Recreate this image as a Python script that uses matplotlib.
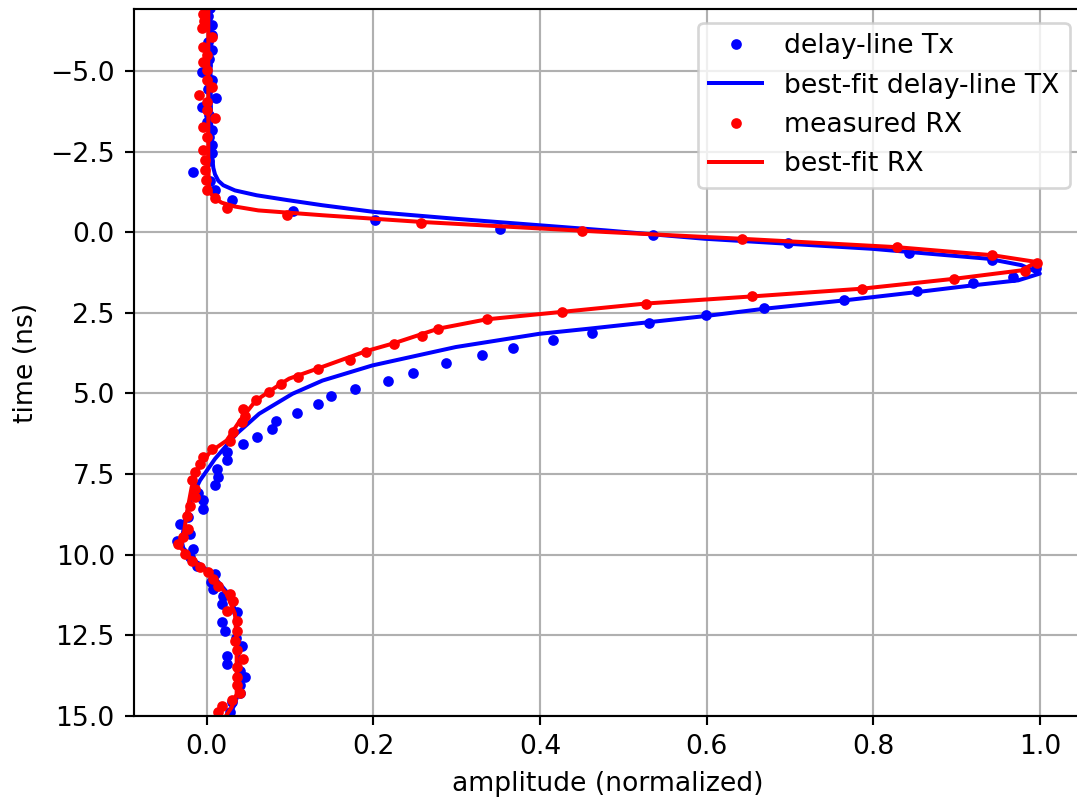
import matplotlib
matplotlib.use("Agg")
import matplotlib.pyplot as plt

# ---- data (time in ns, amplitude normalized) ----
tx_time = [-6.95, -6.7, -6.43, -6.12, -5.9, -5.65, -5.38, -5.2, -4.98, -4.72,
           -4.45, -4.17, -3.89, -3.65, -3.43, -3.17, -2.95, -2.70, -2.45, -2.2,
           -1.87, -1.6, -1.3, -0.99, -0.66, -0.37, -0.11, 0.09, 0.33, 0.64,
           0.87, 1.12, 1.39, 1.56, 1.83, 2.09, 2.34, 2.58, 2.82, 3.12,
           3.35, 3.59, 3.82, 4.06, 4.35, 4.60, 4.85, 5.09, 5.32, 5.61,
           5.84, 6.10, 6.34, 6.56, 6.82, 7.08, 7.34, 7.60, 7.83, 8.08,
           8.32, 8.58, 8.82, 9.05, 9.36, 9.57, 9.82, 10.08, 10.34, 10.6,
           10.85, 11.07, 11.3, 11.53, 11.79, 12.1, 12.36, 12.6, 12.83, 13.14,
           13.39, 13.6, 13.81, 14.05, 14.28, 14.59, 14.9]
tx_amp = [0.004, 0.002, 0.006, 0.006, 0.002, 0.007, 0.003, 0.000, -0.006, 0.007,
          0.002, 0.011, -0.005, 0.003, 0.000, 0.007, 0.003, 0.007, 0.007, 0.003,
          -0.016, 0.004, 0.010, 0.030, 0.104, 0.202, 0.352, 0.536, 0.698, 0.843,
          0.942, 0.995, 0.968, 0.920, 0.853, 0.765, 0.669, 0.599, 0.531, 0.462,
          0.416, 0.368, 0.331, 0.287, 0.248, 0.218, 0.178, 0.149, 0.134, 0.108,
          0.083, 0.079, 0.060, 0.044, 0.024, 0.024, 0.012, 0.014, 0.010, -0.010,
          -0.004, -0.004, -0.022, -0.032, -0.020, -0.036, -0.016, -0.020, -0.012, 0.010,
          0.005, 0.008, 0.020, 0.018, 0.036, 0.018, 0.022, 0.035, 0.042, 0.024,
          0.024, 0.040, 0.046, 0.040, 0.040, 0.030, 0.028]

tx_fit_time = [-7.0, -4.0, -2.5, -2.0, -1.8, -1.6, -1.46, -1.3, -1.15, -1.0, -0.84,
               -0.63, -0.42, -0.22, -0.06, 0.2, 0.51, 0.82, 1.02, 1.28, 1.49,
               1.65, 1.85, 2.11, 2.37, 2.6, 2.99, 3.15, 3.56, 4.13, 4.6,
               5.01, 5.63, 6.25, 7.03, 7.70, 8.22, 8.94, 9.57, 9.8, 10.19,
               10.6, 11.22, 11.84, 12.67, 13.7, 14.32, 14.74, 15.05]
tx_fit_amp = [0.004, 0.005, 0.006, 0.008, 0.010, 0.014, 0.020, 0.034, 0.060, 0.097, 0.139,
              0.202, 0.299, 0.399, 0.479, 0.598, 0.798, 0.938, 0.978, 1.000, 0.974,
              0.918, 0.854, 0.766, 0.670, 0.598, 0.459, 0.399, 0.299, 0.199, 0.139,
              0.103, 0.063, 0.036, 0.010, -0.008, -0.018, -0.026, -0.030, -0.028, -0.014,
              0.006, 0.026, 0.036, 0.038, 0.038, 0.038, 0.032, 0.024]

rx_time = [-6.79, -6.55, -6.33, -6.07, -5.76, -5.5, -5.29, -5.03, -4.72, -4.51,
           -4.25, -4.05, -3.8, -3.56, -3.27, -2.96, -2.55, -2.24, -1.93, -1.61,
           -1.30, -1.08, -0.77, -0.53, -0.29, -0.04, 0.20, 0.47, 0.71, 0.95,
           1.20, 1.44, 1.75, 1.99, 2.21, 2.47, 2.70, 3.01, 3.23, 3.46,
           3.72, 3.95, 4.25, 4.49, 4.70, 4.96, 5.20, 5.48, 5.71, 5.89,
           6.20, 6.46, 6.72, 6.98, 7.2, 7.44, 7.70, 7.96, 8.22, 8.5,
           8.79, 9.2, 9.45, 9.67, 9.98, 10.19, 10.37, 10.55, 10.76, 10.96,
           11.22, 11.43, 11.74, 12.05, 12.36, 12.67, 12.95, 13.24, 13.5, 13.81,
           14.05, 14.28, 14.5, 14.69, 14.9]
rx_amp = [-0.004, -0.003, -0.005, 0.006, -0.004, 0.000, -0.004, 0.000, 0.000, 0.006,
          -0.009, 0.000, 0.001, 0.010, -0.004, 0.000, -0.004, -0.002, -0.002, -0.001,
          0.000, 0.010, 0.024, 0.096, 0.257, 0.451, 0.642, 0.828, 0.943, 0.996,
          0.982, 0.897, 0.786, 0.654, 0.527, 0.426, 0.336, 0.278, 0.258, 0.225,
          0.191, 0.172, 0.134, 0.110, 0.089, 0.075, 0.059, 0.044, 0.046, 0.042,
          0.032, 0.028, 0.006, -0.004, -0.008, -0.014, -0.018, -0.014, -0.014, -0.020,
          -0.024, -0.022, -0.028, -0.034, -0.026, -0.018, -0.008, 0.002, 0.008, 0.014,
          0.028, 0.032, 0.024, 0.036, 0.036, 0.034, 0.036, 0.044, 0.036, 0.036,
          0.036, 0.040, 0.030, 0.018, 0.014]

rx_fit_time = [-7.0, -4.0, -2.0, -1.4, -1.2, -1.05, -0.92, -0.8, -0.68, -0.53, -0.32,
               -0.15, -0.01, 0.2, 0.46, 0.71, 0.92, 1.18, 1.44, 1.75, 1.99,
               2.21, 2.47, 2.70, 2.99, 3.44, 3.69, 4.22, 4.54, 4.70, 5.22,
               5.84, 6.46, 6.82, 7.39, 7.91, 8.74, 9.46, 9.77, 10.19, 10.6,
               11.22, 11.84, 12.67, 13.7, 14.32, 14.74, 15.05]
rx_fit_amp = [0.002, 0.002, 0.002, 0.003, 0.005, 0.010, 0.018, 0.034, 0.062, 0.139, 0.259,
              0.379, 0.479, 0.642, 0.828, 0.943, 0.996, 0.978, 0.898, 0.786, 0.654,
              0.527, 0.426, 0.336, 0.278, 0.225, 0.191, 0.134, 0.099, 0.089, 0.059,
              0.040, 0.024, 0.004, -0.012, -0.018, -0.024, -0.028, -0.032, -0.016, 0.004,
              0.024, 0.034, 0.036, 0.036, 0.036, 0.030, 0.022]

DPI = 192
fig = plt.figure(figsize=(1077 / DPI, 797 / DPI), dpi=DPI)
# the reference crops the right spine just past the image edge
ax = fig.add_axes([133.5 / 1077, 0.102, (1083 - 133.5) / 1077, 0.9883 - 0.102])

ax.plot(tx_amp, tx_time, '.', color='blue', label='delay-line Tx')
ax.plot(tx_fit_amp, tx_fit_time, '-', color='blue', label='best-fit delay-line TX')
ax.plot(rx_amp, rx_time, '.', color='red', label='measured RX')
ax.plot(rx_fit_amp, rx_fit_time, '-', color='red', label='best-fit RX')

ax.set_xlim(-0.0878, 1.0518)
ax.set_ylim(15.0, -6.92)
ax.set_xticks([0.0, 0.2, 0.4, 0.6, 0.8, 1.0])
ax.set_yticks([-5.0, -2.5, 0.0, 2.5, 5.0, 7.5, 10.0, 12.5, 15.0])
ax.grid(True)
ax.set_xlabel('amplitude (normalized)')
ax.set_ylabel('time (ns)')
ax.legend(loc='upper right')

fig.savefig('out.png', dpi=DPI)
